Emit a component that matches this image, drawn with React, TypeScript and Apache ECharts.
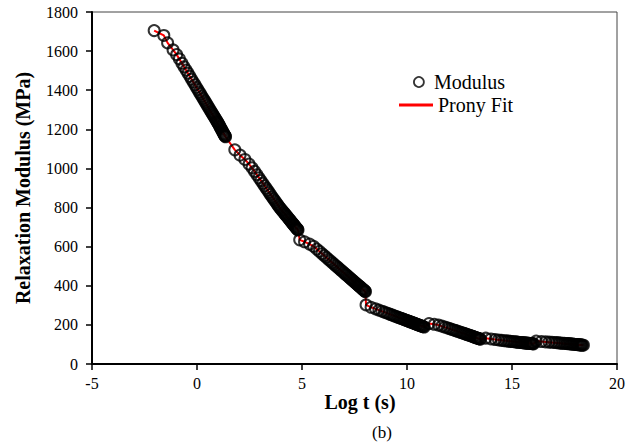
import React, { useEffect, useRef } from "react";
import * as echarts from "echarts";

// Measured modulus data (Log t, MPa), segment by segment
const seg1X = [-2.04, -1.58, -1.40, -1.14, -0.97, -0.84, -0.72, -0.62, -0.52, -0.43, -0.34, -0.26, -0.18, -0.10, -0.03, 0.04, 0.11, 0.17, 0.23, 0.29, 0.35, 0.40, 0.45, 0.50, 0.55, 0.60, 0.65, 0.69, 0.73, 0.77, 0.81, 0.85, 0.89, 0.93, 0.96, 0.99, 1.02, 1.05, 1.08, 1.11, 1.14, 1.17, 1.20, 1.23, 1.26, 1.28, 1.30, 1.32, 1.34, 1.36];
const seg1Y = [1705, 1680, 1642, 1606, 1582, 1560, 1538, 1520, 1503, 1487, 1471, 1456, 1442, 1428, 1415, 1403, 1390, 1380, 1369, 1358, 1348, 1339, 1330, 1321, 1312, 1303, 1294, 1287, 1280, 1273, 1266, 1259, 1252, 1245, 1239, 1234, 1228, 1223, 1216, 1210, 1204, 1198, 1192, 1186, 1180, 1176, 1172, 1168, 1165, 1162];
const seg2X = [1.80, 2.05, 2.28, 2.48, 2.62, 2.74, 2.85, 2.95, 3.04, 3.13, 3.21, 3.29, 3.36, 3.43, 3.50, 3.57, 3.63, 3.69, 3.75, 3.81, 3.86, 3.91, 3.96, 4.01, 4.06, 4.11, 4.16, 4.20, 4.24, 4.28, 4.32, 4.36, 4.40, 4.44, 4.48, 4.52, 4.55, 4.58, 4.61, 4.64, 4.67, 4.70, 4.73, 4.76, 4.79, 4.81];
const seg2Y = [1095, 1068, 1046, 1022, 1003, 985, 968, 952, 938, 924, 911, 899, 888, 877, 866, 855, 846, 837, 828, 819, 811, 804, 797, 790, 784, 777, 771, 765, 760, 755, 750, 744, 739, 734, 728, 723, 719, 715, 711, 707, 703, 699, 695, 691, 688, 685];
const seg3X = [4.89, 5.12, 5.36, 5.55, 5.70, 5.83, 5.95, 6.06, 6.16, 6.26, 6.35, 6.44, 6.52, 6.60, 6.68, 6.75, 6.82, 6.89, 6.96, 7.02, 7.08, 7.14, 7.20, 7.26, 7.31, 7.36, 7.41, 7.46, 7.51, 7.56, 7.61, 7.65, 7.69, 7.73, 7.77, 7.81, 7.85, 7.88, 7.91, 7.94, 7.97, 8.00, 8.02];
const seg3Y = [635, 625, 613, 602, 588, 576, 564, 554, 545, 535, 527, 518, 511, 503, 496, 489, 483, 476, 470, 464, 458, 453, 447, 442, 437, 432, 428, 423, 418, 414, 409, 405, 401, 398, 394, 390, 386, 383, 381, 378, 375, 372, 370];
const seg4X = [8.05, 8.29, 8.50, 8.66, 8.80, 8.92, 9.03, 9.13, 9.22, 9.31, 9.39, 9.47, 9.55, 9.62, 9.69, 9.76, 9.82, 9.88, 9.94, 10.00, 10.05, 10.10, 10.15, 10.20, 10.25, 10.30, 10.34, 10.38, 10.42, 10.46, 10.50, 10.54, 10.58, 10.62, 10.66, 10.70, 10.74, 10.78, 10.82];
const seg4Y = [302, 290, 282, 276, 270, 265, 261, 257, 253, 250, 246, 243, 240, 237, 234, 232, 229, 227, 224, 222, 220, 218, 216, 214, 212, 210, 208, 207, 205, 203, 202, 200, 198, 197, 195, 194, 192, 191, 189];
const seg5X = [11.05, 11.30, 11.50, 11.66, 11.80, 11.92, 12.03, 12.13, 12.22, 12.31, 12.39, 12.47, 12.55, 12.62, 12.69, 12.76, 12.82, 12.88, 12.94, 13.00, 13.05, 13.10, 13.15, 13.20, 13.25, 13.30, 13.34, 13.38, 13.42, 13.46, 13.50];
const seg5Y = [207, 203, 199, 194, 189, 185, 181, 177, 174, 171, 168, 165, 162, 160, 157, 155, 152, 150, 148, 146, 144, 142, 140, 138, 136, 134, 133, 131, 130, 128, 127];
const seg6X = [13.75, 14.00, 14.20, 14.36, 14.50, 14.62, 14.73, 14.83, 14.92, 15.01, 15.09, 15.17, 15.24, 15.31, 15.38, 15.44, 15.50, 15.56, 15.62, 15.67, 15.72, 15.77, 15.82, 15.87, 15.91, 15.95, 15.99, 16.03];
const seg6Y = [132, 128, 125, 123, 121, 119, 118, 117, 116, 115, 114, 113, 112, 111, 110, 110, 109, 108, 108, 107, 107, 106, 106, 105, 105, 104, 104, 103];
const seg7X = [16.15, 16.40, 16.60, 16.76, 16.90, 17.02, 17.13, 17.23, 17.32, 17.41, 17.49, 17.57, 17.64, 17.71, 17.78, 17.84, 17.90, 17.96, 18.02, 18.07, 18.12, 18.17, 18.22, 18.27, 18.31, 18.35, 18.40];
const seg7Y = [117, 115, 113, 112, 111, 110, 109, 108, 107, 106, 106, 105, 104, 104, 103, 102, 102, 101, 100, 100, 99, 99, 98, 98, 97, 97, 96];

// Prony fit curve
const fitX = [-2.04, -1.58, -1.40, -1.14, -0.97, 0, 1.36, 1.80, 2.05, 2.28, 2.48, 2.74, 3.96, 4.81, 4.89, 5.12, 5.36, 5.55, 8.02, 8.05, 8.29, 8.50, 10.82, 11.05, 11.50, 13.50, 13.75, 14.20, 16.03, 16.15, 16.60, 18.40];
const fitY = [1705, 1680, 1642, 1606, 1582, 1410, 1162, 1095, 1068, 1046, 1022, 985, 797, 685, 635, 625, 613, 602, 370, 302, 290, 282, 189, 207, 199, 127, 132, 125, 103, 117, 113, 96];

const xTicks = { min: -5, max: 20, interval: 5 };
const yTicks = { min: 0, max: 1800, interval: 200 };

const SERIF = "'Liberation Serif', 'Times New Roman', serif";

export default function App() {
  const ref = useRef<HTMLDivElement>(null);
  useEffect(() => {
    if (!ref.current) return;
    const chart = echarts.init(ref.current, undefined, { renderer: "svg" });
    const segsX = [seg1X, seg2X, seg3X, seg4X, seg5X, seg6X, seg7X];
    const segsY = [seg1Y, seg2Y, seg3Y, seg4Y, seg5Y, seg6Y, seg7Y];
    const modulus: number[][] = [];
    segsX.forEach((xs, s) => xs.forEach((x, i) => modulus.push([x, segsY[s][i]])));
    const fit = fitX.map((x, i) => [x, fitY[i]]);
    chart.setOption({
      animation: false,
      grid: { left: 92, right: 9, top: 12, bottom: 83, show: true, borderColor: "#444", borderWidth: 1 },
      xAxis: {
        type: "value",
        ...xTicks,
        name: "Log t (s)",
        nameLocation: "middle",
        nameGap: 28,
        nameMoveOverlap: false,
        nameTextStyle: { fontFamily: SERIF, fontSize: 20, fontWeight: "bold", color: "#000", padding: [0, 0, 0, 11] },
        axisLine: { show: true, onZero: false, lineStyle: { color: "#000", width: 2 } },
        axisTick: { show: true, inside: false, length: 6, lineStyle: { color: "#000", width: 1.5 } },
        axisLabel: { fontFamily: SERIF, fontSize: 16, color: "#000", margin: 11 },
        splitLine: { show: false },
      },
      yAxis: {
        type: "value",
        ...yTicks,
        name: "Relaxation Modulus (MPa)",
        nameLocation: "middle",
        nameGap: 59,
        nameTextStyle: { fontFamily: SERIF, fontSize: 20, fontWeight: "bold", color: "#000" },
        axisLine: { show: true, onZero: false, lineStyle: { color: "#000", width: 2 } },
        axisTick: { show: true, inside: false, length: 6, lineStyle: { color: "#000", width: 1.5 } },
        axisLabel: { fontFamily: SERIF, fontSize: 16, color: "#000", margin: 14, formatter: (v: number) => String(v) },
        splitLine: { show: false },
      },
      legend: [
        {
          data: [{ name: "Modulus", icon: "circle", itemStyle: { color: "transparent", borderColor: "#000", borderWidth: 1.8 } }],
          left: 413,
          top: 72,
          itemWidth: 20,
          itemHeight: 10,
          padding: 0,
          textStyle: { fontFamily: SERIF, fontSize: 20, color: "#000" },
        },
        {
          data: [{ name: "Prony Fit", icon: "rect", itemStyle: { color: "#ff0000", borderWidth: 0 } }],
          left: 399,
          top: 95,
          itemWidth: 34,
          itemHeight: 3,
          padding: 0,
          textStyle: { fontFamily: SERIF, fontSize: 20, color: "#000" },
        },
      ],
      graphic: [
        {
          type: "text",
          left: 372,
          top: 424,
          style: { text: "(b)", font: `17px ${SERIF}`, fill: "#000" },
        },
      ],
      series: [
        {
          name: "Prony Fit",
          type: "line",
          data: fit,
          showSymbol: false,
          symbol: "none",
          lineStyle: { color: "#ff0000", width: 2 },
          itemStyle: { color: "#ff0000" },
          z: 2,
        },
        {
          name: "Modulus",
          type: "scatter",
          data: modulus,
          symbol: "circle",
          symbolSize: 11,
          itemStyle: { color: "transparent", borderColor: "#000", borderWidth: 2 },
          z: 3,
        },
      ],
    });
    return () => chart.dispose();
  }, []);
  return <div ref={ref} style={{ width: 628, height: 447, position: "absolute", left: 0, top: 0, background: "#fff" }} />;
}
